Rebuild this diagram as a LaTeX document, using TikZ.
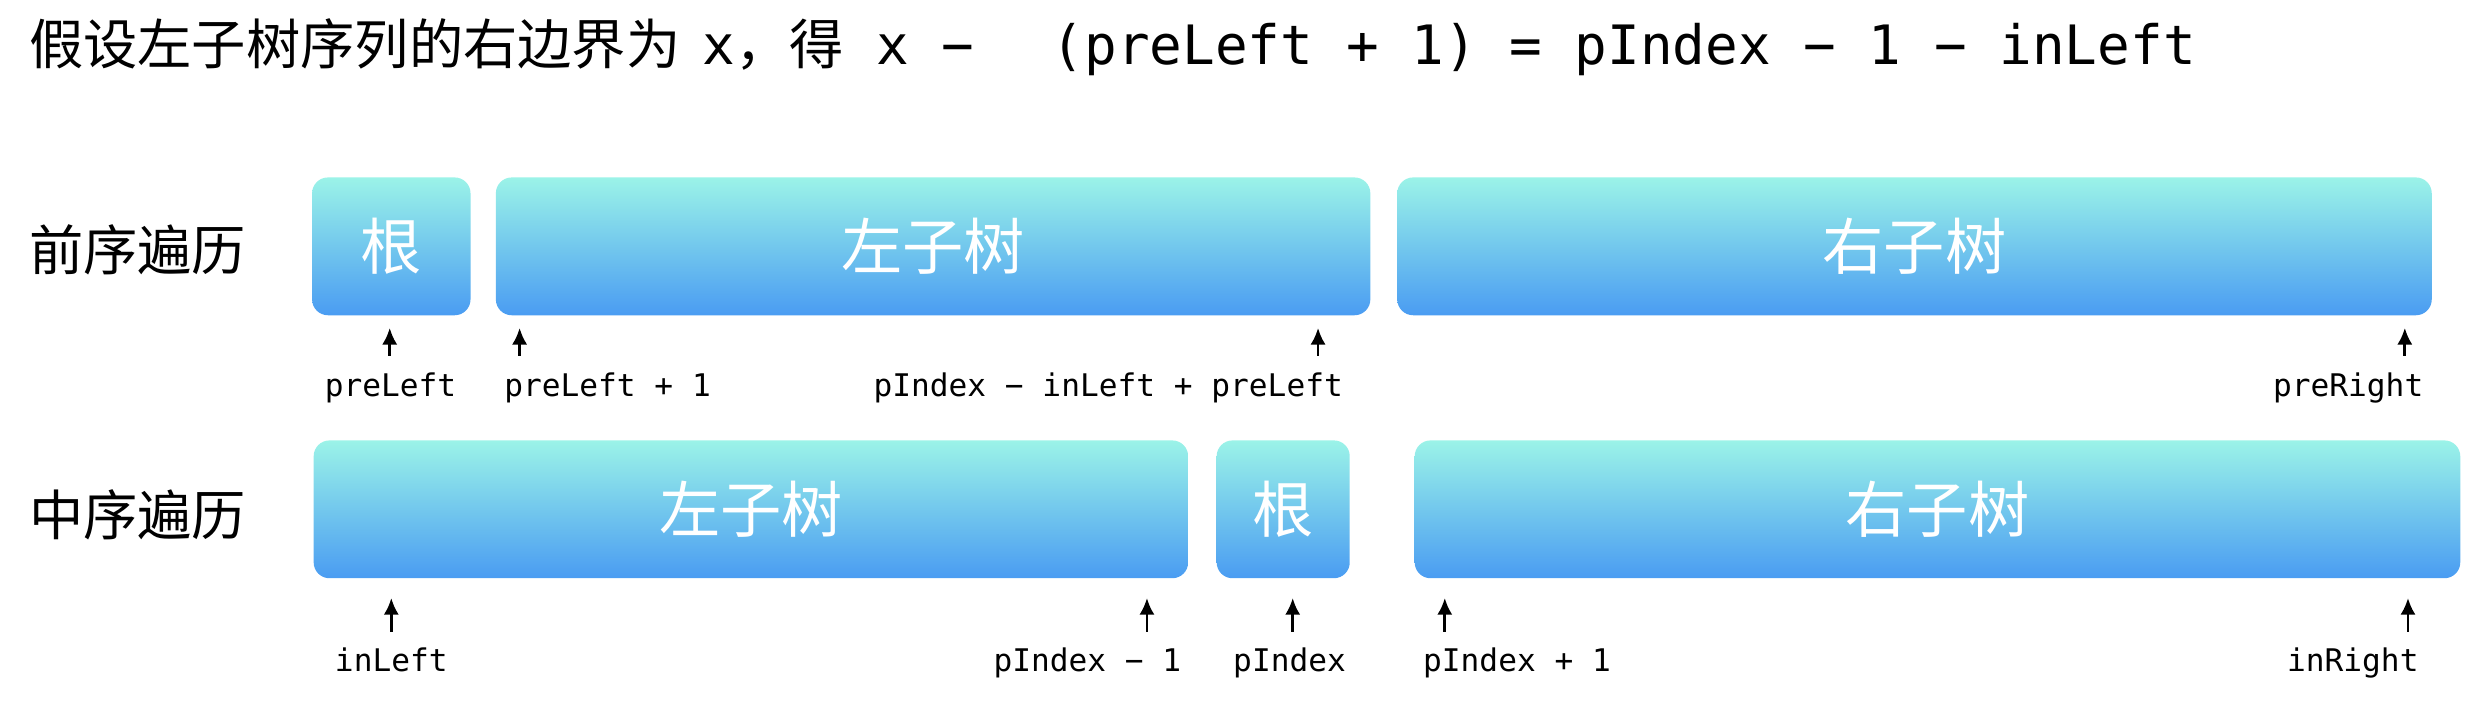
\documentclass[tikz,border=0pt]{standalone}
\usepackage{fontspec}
\usepackage{tikz}
\usetikzlibrary{arrows.meta,positioning}
\newfontfamily\cjk{Noto Sans CJK SC}
\newfontfamily\mono{DejaVu Sans Mono}
\definecolor{segtop}{RGB}{155,243,232}
\definecolor{segbot}{RGB}{74,156,242}

\begin{document}
\begin{tikzpicture}[
    seg/.style={rectangle, rounded corners=0.2cm, top color=segtop, bottom color=segbot, draw=none, minimum height=1.74cm, inner sep=0pt, outer sep=0pt, text=white, font=\cjk\fontsize{22}{24}\selectfont},
    rowname/.style={anchor=west, inner sep=0pt, font=\cjk\fontsize{19.5}{22}\selectfont},
    idx/.style={inner xsep=0pt, inner ysep=0.2cm, font=\mono\fontsize{11.2}{13}\selectfont},
    ptr/.style={-{Latex[length=6pt,width=5.5pt]}, line width=1pt}
]
\useasboundingbox (0,0) rectangle (31.36,8.88);

% title line
\node[anchor=base west, inner sep=0pt, font=\fontsize{19.5}{22}\selectfont] (title) at (0.36,8.06)
    {{\cjk 假设左子树序列的右边界为}\hspace{0.28cm}{\mono x}{\cjk ，得}{\mono\ x −\ \ \hspace{0.15cm}(preLeft + 1) = pIndex − 1 − inLeft}};

% preorder
\node[rowname] (pre) at (0.36,5.72) {前序遍历};
\node[seg, minimum width=2.0cm, anchor=west] (preroot) at (3.94,5.77) {根};
\node[seg, minimum width=11.04cm, right=0.32cm of preroot] (preleft) {左子树};
\node[seg, minimum width=13.06cm, right=0.34cm of preleft] (preright) {右子树};

% inorder
\node[rowname] (in) at (0.36,2.38) {中序遍历};
\node[seg, minimum width=11.04cm, anchor=west] (inleft) at (3.96,2.45) {左子树};
\node[seg, minimum width=1.68cm, right=0.36cm of inleft] (inroot) {根};
\node[seg, minimum width=13.2cm, right=0.82cm of inroot] (inright) {右子树};

% index labels, preorder
\node[idx, anchor=base] (l1) at (4.93,3.88) {preLeft};
\node[idx, anchor=base west] (l2) at (6.36,3.88) {preLeft + 1};
\node[idx, anchor=base east] (l3) at (16.96,3.88) {pIndex − inLeft + preLeft};
\node[idx, anchor=base east] (l4) at (30.60,3.88) {preRight};

% index labels, inorder
\node[idx, anchor=base] (m1) at (4.94,0.40) {inLeft};
\node[idx, anchor=base east] (m2) at (14.92,0.40) {pIndex − 1};
\node[idx, anchor=base] (m3) at (16.28,0.40) {pIndex};
\node[idx, anchor=base west] (m4) at (17.96,0.40) {pIndex + 1};
\node[idx, anchor=base east] (m5) at (30.54,0.40) {inRight};

% arrow tips
\coordinate (p1) at (4.92,4.74);
\coordinate (p2) at (6.56,4.74);
\coordinate (p3) at (16.64,4.74);
\coordinate (p4) at (30.36,4.74);
\coordinate (q1) at (4.94,1.33);
\coordinate (q2) at (14.48,1.33);
\coordinate (q3) at (16.32,1.33);
\coordinate (q4) at (18.24,1.33);
\coordinate (q5) at (30.40,1.33);

\draw[ptr] (l1.north -| p1) -- (p1);
\draw[ptr] (l2.north -| p2) -- (p2);
\draw[ptr] (l3.north -| p3) -- (p3);
\draw[ptr] (l4.north -| p4) -- (p4);
\draw[ptr] (m1.north -| q1) -- (q1);
\draw[ptr] (m2.north -| q2) -- (q2);
\draw[ptr] (m3.north -| q3) -- (q3);
\draw[ptr] (m4.north -| q4) -- (q4);
\draw[ptr] (m5.north -| q5) -- (q5);
\end{tikzpicture}
\end{document}
